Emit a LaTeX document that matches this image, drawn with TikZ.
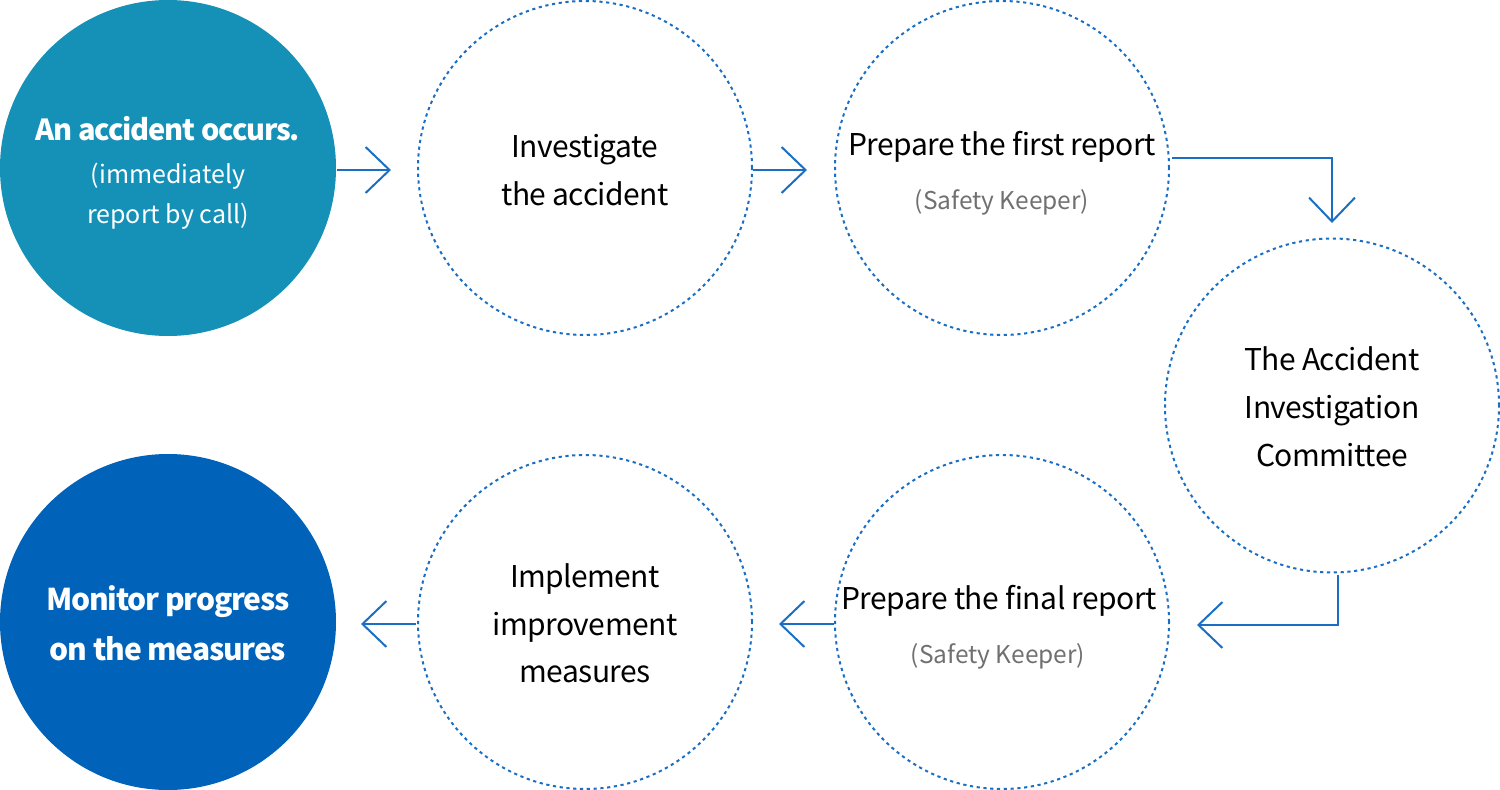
\documentclass[tikz,border=0pt]{standalone}
\usepackage{fontspec}
\setmainfont{Noto Sans CJK KR}
\newfontfamily\mainf{Noto Sans CJK KR}[LetterSpace=-1.8]
\newfontfamily\boldf{Noto Sans CJK KR}[LetterSpace=-4]
\usetikzlibrary{arrows.meta}
\definecolor{teal1}{HTML}{1591B8}
\definecolor{blue1}{HTML}{0062B8}
\definecolor{line1}{HTML}{1A6FC4}
\definecolor{gray1}{HTML}{707070}
\tikzset{
  solidc/.style={circle, minimum size=336pt, inner sep=0pt, text=white},
  dotc/.style={circle, minimum size=334pt, inner sep=0pt, draw=line1, line width=2pt, dash pattern=on 3.2pt off 3.6pt},
  flow/.style={draw=line1, line width=2pt, -{Straight Barb[length=24pt,width=46pt,line width=2pt]}},
  main/.style={font=\mainf\fontsize{30}{36}\selectfont, text=black},
  sub/.style={font=\fontsize{24.5}{30}\selectfont, text=gray1},
  boldt/.style={text=white, font=\boldf\bfseries\fontsize{29}{34}\selectfont},
  lab/.style={inner sep=0pt, anchor=base},
}
\begin{document}
\begin{tikzpicture}[x=1pt,y=-1pt]
\useasboundingbox (0,0) rectangle (1500,790);
\node[solidc, fill=teal1] (c1) at (168,168) {};
\node[dotc] (c2) at (585,168) {};
\node[dotc] (c3) at (1002,168) {};
\node[dotc] (c4) at (1332,405.5) {};
\node[dotc] (c5) at (1002,622) {};
\node[dotc] (c6) at (585,622) {};
\node[solidc, fill=blue1] (c7) at (168,622) {};
% texts
\node[lab, boldt] (t1a) at (168,140) {An accident occurs.};
\node[lab, text=white, font=\fontsize{25}{30}\selectfont] (t1b) at (168,183) {(immediately};
\node[lab, text=white, font=\fontsize{25}{30}\selectfont] (t1c) at (168,223) {report by call)};
\node[lab, main] (t2a) at (585,157) {Investigate};
\node[lab, main] (t2b) at (585,205) {the accident};
\node[lab, main] (t3a) at (1002,155) {Prepare the first report};
\node[lab, sub] (t3b) at (1002,209) {(Safety Keeper)};
\node[lab, main] (t4a) at (1332,370) {The Accident};
\node[lab, main] (t4b) at (1332,418) {Investigation};
\node[lab, main] (t4c) at (1332,466) {Committee};
\node[lab, main] (t5a) at (999,609) {Prepare the final report};
\node[lab, sub] (t5b) at (998,663) {(Safety Keeper)};
\node[lab, main] (t6a) at (585,587) {Implement};
\node[lab, main] (t6b) at (585,635) {improvement};
\node[lab, main] (t6c) at (585,682) {measures};
\node[lab, boldt, font=\boldf\bfseries\fontsize{30}{36}\selectfont] (t7a) at (168,610) {Monitor progress};
\node[lab, boldt, font=\boldf\bfseries\fontsize{30}{36}\selectfont] (t7b) at (168,660) {on the measures};
% connectors
\coordinate (a1s) at (337,170);
\coordinate (a1e) at (391,170);
\draw[flow] (a1s) -- (a1e);
\coordinate (a2s) at (753,170);
\coordinate (a2e) at (807,170);
\draw[flow] (a2s) -- (a2e);
\coordinate (a3s) at (1172,158);
\coordinate (a3e) at (1332,223);
\draw[flow] (a3s) -| (a3e);
\coordinate (a4s) at (1338,575);
\coordinate (a4e) at (1197,625);
\draw[flow] (a4s) |- (a4e);
\coordinate (a5s) at (834,624);
\coordinate (a5e) at (779,624);
\draw[flow] (a5s) -- (a5e);
\coordinate (a6s) at (416,624);
\coordinate (a6e) at (361,624);
\draw[flow] (a6s) -- (a6e);
\end{tikzpicture}
\end{document}
